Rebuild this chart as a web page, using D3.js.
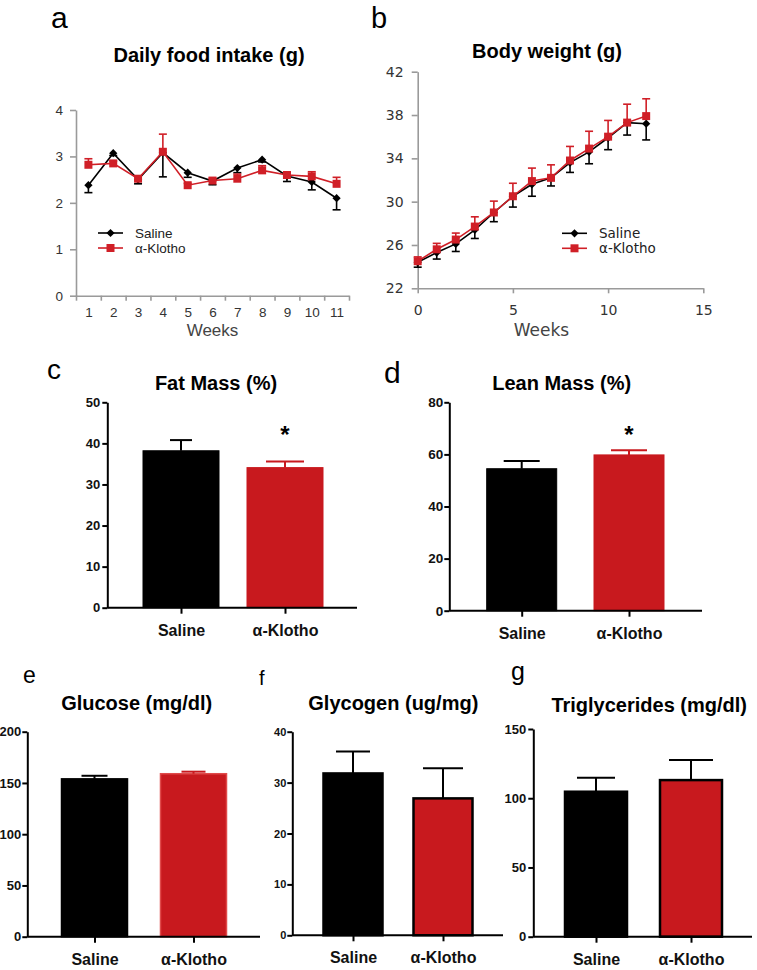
<!DOCTYPE html>
<html><head><meta charset="utf-8">
<script src="https://cdn.jsdelivr.net/npm/d3@7"></script>
<style>body{margin:0;background:#fff} svg{display:block}</style>
</head><body>
<svg id="chart" width="757" height="970"></svg>
<script>
// ---------- data ----------
const foodWeeks = [1,2,3,4,5,6,7,8,9,10,11];
const foodSaline    = [2.38,3.07,2.50,3.08,2.65,2.47,2.75,2.93,2.58,2.45,2.10];
const foodSalineErr = [0.16,0.05,0.09,0.52,0.10,0.08,0.10,0.05,0.12,0.17,0.25];
const foodKlotho    = [2.82,2.85,2.52,3.10,2.38,2.48,2.52,2.70,2.60,2.57,2.41];
const foodKlothoErr = [0.13,0.05,0.05,0.38,0.04,0.05,0.10,0.10,0.05,0.10,0.14];
const foodYTicks = [0,1,2,3,4];

const bwWeeks = [0,1,2,3,4,5,6,7,8,9,10,11,12];
const bwSaline    = [24.4,25.3,26.1,27.4,29.0,30.5,31.6,32.2,33.6,34.6,35.9,37.3,37.2];
const bwSalineErr = [0.45,0.6,0.7,0.8,0.85,1.0,1.1,0.75,0.9,1.1,1.1,1.15,1.5];
const bwKlotho    = [24.5,25.6,26.5,27.7,29.0,30.5,31.9,32.2,33.8,34.9,36.0,37.3,37.9];
const bwKlothoErr = [0.4,0.55,0.6,0.9,1.05,1.2,1.2,1.2,1.3,1.6,1.5,1.7,1.6];
const bwYTicks = [22,26,30,34,38,42];
const bwXTicks = [0,5,10,15];

const groups = ["Saline","α-Klotho"];
const seriesNames = ["Saline","α-Klotho"];
const fatMass = [38.2,34.1],   fatMassErr = [2.6,1.5];
const leanMass = [54.5,59.8],  leanMassErr = [3.0,1.8];
const glucose = [154,159],     glucoseErr = [3,2];
const glycogen = [31.8,26.9],  glycogenErr = [4.3,5.9];
const triglycerides = [104.7,113.1], triglyceridesErr = [10.1,14.5];
const fatTicks = [0,10,20,30,40,50];
const leanTicks = [0,20,40,60,80];
const glucoseTicks = [0,50,100,150,200];
const glycogenTicks = [0,10,20,30,40];
const tgTicks = [0,50,100,150];

// ---------- drawing ----------
const svg = d3.select("#chart");
const FONT = "'Liberation Sans', Arial, Helvetica, sans-serif";
const RED_LINE = "#d01f27", RED_BAR = "#c8191e";
const AX_GRAY = "#9a9a9a";

function label(x, y, s, size, opts={}) {
  return svg.append("text").attr("x", x).attr("y", y).text(s)
    .attr("font-family", opts.family || FONT).attr("font-size", size)
    .attr("font-weight", opts.weight || "normal")
    .attr("fill", opts.fill || "#000")
    .attr("text-anchor", opts.anchor || "start");
}

// panel letters
label(51, 28, "a", 30);
label(371, 28, "b", 29);
label(47, 379, "c", 28);
label(384, 383, "d", 30);
label(23, 683, "e", 23);
label(259, 685, "f", 20);
label(511, 680, "g", 25);

function diamond(g, x, y, color) {
  g.append("path").attr("d", d3.symbol(d3.symbolSquare, 34)())
    .attr("transform", `translate(${x},${y}) rotate(45)`).attr("fill", color);
}
function square(g, x, y, color) {
  g.append("path").attr("d", d3.symbol(d3.symbolSquare, 64)())
    .attr("transform", `translate(${x},${y})`).attr("fill", color);
}

function linePanel(cfg) {
  const g = svg.append("g");
  const x = cfg.x, y = cfg.y;
  const ya = g.append("g").attr("transform", `translate(${x.range()[0]},0)`)
    .call(d3.axisLeft(y).tickValues(cfg.yTicks).tickSize(6).tickSizeOuter(0)
      .tickPadding(cfg.yPad).tickFormat(d3.format("d")));
  const xa = g.append("g").attr("transform", `translate(0,${y.range()[0]})`)
    .call(d3.axisBottom(x).tickValues(cfg.xTickMarks).tickSize(5).tickSizeOuter(0).tickFormat(""));
  const xl = g.append("g").attr("transform", `translate(0,${y.range()[0]})`)
    .call(d3.axisBottom(x).tickValues(cfg.xLabels).tickSize(0).tickFormat(d3.format("d")));
  xl.select(".domain").remove();
  [ya, xa].forEach(a => {
    a.select(".domain").attr("stroke", AX_GRAY).attr("stroke-width", 1.6);
    a.selectAll(".tick line").attr("stroke", AX_GRAY).attr("stroke-width", 1.6);
  });
  ya.selectAll("text").attr("font-family", cfg.tickFamily).attr("font-size", cfg.tickSize).attr("fill", "#333");
  xl.selectAll("text").attr("font-family", cfg.tickFamily).attr("font-size", cfg.tickSize).attr("fill", "#333")
    .attr("dy", null).attr("y", cfg.xLabOff);
  label((x.range()[0] + x.range()[1]) / 2 + cfg.weeksDx, cfg.weeksY, "Weeks", 17, {anchor: "middle", fill: "#444", family: cfg.tickFamily});
  label(cfg.titleX, cfg.titleY, cfg.title, 20, {anchor: "middle", weight: "bold"});

  const line = d3.line().x(d => x(d[0])).y(d => y(d[1]));
  cfg.series.forEach(s => {
    const pts = s.x.map((v, i) => [v, s.v[i], s.e[i]]);
    pts.forEach(p => {
      const end = p[1] + s.dir * p[2];
      g.append("line").attr("x1", x(p[0])).attr("x2", x(p[0])).attr("y1", y(p[1])).attr("y2", y(end))
        .attr("stroke", s.color).attr("stroke-width", 1.6);
      g.append("line").attr("x1", x(p[0]) - 4).attr("x2", x(p[0]) + 4).attr("y1", y(end)).attr("y2", y(end))
        .attr("stroke", s.color).attr("stroke-width", 1.6);
    });
    g.append("path").datum(pts).attr("d", line).attr("fill", "none")
      .attr("stroke", s.color).attr("stroke-width", 1.6);
    pts.forEach(p => s.marker(g, x(p[0]), y(p[1]), s.color));
  });
  cfg.series.forEach((s, i) => {
    const ly = cfg.legY + i * 15;
    g.append("line").attr("x1", cfg.legX).attr("x2", cfg.legX + 25).attr("y1", ly).attr("y2", ly)
      .attr("stroke", s.color).attr("stroke-width", 1.6);
    s.marker(g, cfg.legX + 12.5, ly, s.color);
    label(cfg.legX + 37, ly + 5, s.name, 13.5, {fill: "#222", family: cfg.tickFamily});
  });
}

// Panel a
linePanel({
  x: d3.scaleLinear().domain([0.5, 11.5]).range([76, 349]),
  y: d3.scaleLinear().domain([0, 4]).range([295.7, 110]),
  yTicks: foodYTicks, yPad: 7,
  xTickMarks: d3.range(0.5, 12, 1), xLabels: foodWeeks, xLabOff: 21,
  tickFamily: FONT, tickSize: 13.5,
  weeksDx: 0, weeksY: 336,
  title: "Daily food intake (g)", titleX: 209, titleY: 61.5,
  legX: 98, legY: 233,
  series: [
    {name: seriesNames[0], x: foodWeeks, v: foodSaline, e: foodSalineErr, dir: -1, color: "#000", marker: diamond},
    {name: seriesNames[1], x: foodWeeks, v: foodKlotho, e: foodKlothoErr, dir: 1, color: RED_LINE, marker: square}
  ]
});

// Panel b
linePanel({
  x: d3.scaleLinear().domain([0, 15]).range([417.7, 703.3]),
  y: d3.scaleLinear().domain([22, 42]).range([288.3, 71.7]),
  yTicks: bwYTicks, yPad: 8,
  xTickMarks: bwXTicks, xLabels: bwXTicks, xLabOff: 27,
  tickFamily: "'DejaVu Sans', sans-serif", tickSize: 14,
  weeksDx: -19, weeksY: 336,
  title: "Body weight (g)", titleX: 547, titleY: 58.3,
  legX: 562, legY: 233.3,
  series: [
    {name: seriesNames[0], x: bwWeeks, v: bwSaline, e: bwSalineErr, dir: -1, color: "#000", marker: diamond},
    {name: seriesNames[1], x: bwWeeks, v: bwKlotho, e: bwKlothoErr, dir: 1, color: RED_LINE, marker: square}
  ]
});

function barPanel(cfg) {
  const g = svg.append("g");
  const y = d3.scaleLinear().domain([0, cfg.yMax]).range(cfg.yRange);
  const x = d3.scalePoint().domain(groups).range(cfg.centers);
  const y0 = cfg.yRange[0];
  groups.forEach((k, i) => {
    const st = cfg.barStroke[i];
    g.append("rect").attr("x", x(k) - cfg.barW / 2).attr("width", cfg.barW)
      .attr("y", y(cfg.values[i])).attr("height", y0 - y(cfg.values[i]))
      .attr("fill", i === 0 ? "#000" : RED_BAR)
      .attr("stroke", st[0]).attr("stroke-width", st[1]);
    const top = cfg.values[i] + cfg.errs[i];
    const ec = cfg.errColor[i];
    g.append("line").attr("x1", x(k)).attr("x2", x(k)).attr("y1", y(cfg.values[i])).attr("y2", y(top))
      .attr("stroke", ec).attr("stroke-width", 2);
    g.append("line").attr("x1", x(k) - cfg.capW[i] / 2).attr("x2", x(k) + cfg.capW[i] / 2)
      .attr("y1", y(top)).attr("y2", y(top)).attr("stroke", ec).attr("stroke-width", 2);
  });
  const ya = g.append("g").attr("transform", `translate(${cfg.axisX[0]},0)`)
    .call(d3.axisLeft(y).tickValues(cfg.yTicks).tickSize(5).tickSizeOuter(0).tickPadding(cfg.yPad));
  const xa = g.append("g").attr("transform", `translate(0,${y0})`)
    .call(d3.axisBottom(x).tickSize(6).tickSizeOuter(0).tickPadding(0));
  xa.select(".domain").remove();
  g.append("line").attr("x1", cfg.axisX[0]).attr("x2", cfg.axisX[1]).attr("y1", y0).attr("y2", y0)
    .attr("stroke", "#000").attr("stroke-width", 2);
  [ya, xa].forEach(a => {
    a.select(".domain").attr("stroke", "#000").attr("stroke-width", 2);
    a.selectAll(".tick line").attr("stroke", "#000").attr("stroke-width", 2);
  });
  ya.selectAll("text").attr("font-family", FONT).attr("font-weight", "bold")
    .attr("font-size", cfg.yFont).attr("fill", "#111");
  xa.selectAll("text").attr("font-family", FONT).attr("font-weight", "bold")
    .attr("font-size", 16).attr("fill", "#111").attr("dy", null).attr("y", 28);
  label(cfg.titleX, cfg.titleY, cfg.title, 20, {anchor: "middle", weight: "bold"});
  if (cfg.star) label(x(groups[1]), cfg.starY, "*", 24, {anchor: "middle", weight: "bold"});
}

barPanel({ title: "Fat Mass (%)", titleX: 216, titleY: 390,
  yMax: 50, yTicks: fatTicks, yRange: [607.7, 402.3], axisX: [107.3, 357],
  centers: [181, 285], barW: 76, values: fatMass, errs: fatMassErr,
  barStroke: [["#000", 1], [RED_BAR, 1]], errColor: ["#000", RED_BAR], capW: [22, 38],
  yFont: 13, yPad: 2, star: true, starY: 443 });

barPanel({ title: "Lean Mass (%)", titleX: 561.7, titleY: 390,
  yMax: 80, yTicks: leanTicks, yRange: [610.7, 402.3], axisX: [449.3, 702],
  centers: [521.7, 629], barW: 70, values: leanMass, errs: leanMassErr,
  barStroke: [["#000", 1], [RED_BAR, 1]], errColor: ["#000", RED_BAR], capW: [36, 36],
  yFont: 13.5, yPad: 1, star: true, starY: 443 });

barPanel({ title: "Glucose (mg/dl)", titleX: 136.7, titleY: 710,
  yMax: 200, yTicks: glucoseTicks, yRange: [936.7, 731.7], axisX: [27.3, 260],
  centers: [94.5, 193.5], barW: 66, values: glucose, errs: glucoseErr,
  barStroke: [["#000", 1.5], ["#e04a4a", 1.5]], errColor: ["#000", RED_BAR], capW: [26, 24],
  yFont: 13, yPad: 1 });

barPanel({ title: "Glycogen (ug/mg)", titleX: 393.3, titleY: 710,
  yMax: 40, yTicks: glycogenTicks, yRange: [935.3, 731.7], axisX: [292.3, 503],
  centers: [353, 443], barW: 59, values: glycogen, errs: glycogenErr,
  barStroke: [["#000", 2.5], ["#000", 2.5]], errColor: ["#000", "#000"], capW: [34, 40],
  yFont: 11, yPad: 1 });

barPanel({ title: "Triglycerides (mg/dl)", titleX: 649.2, titleY: 711.5,
  yMax: 150, yTicks: tgTicks, yRange: [936.7, 729], axisX: [533.3, 752],
  centers: [596, 691], barW: 62, values: triglycerides, errs: triglyceridesErr,
  barStroke: [["#000", 2.5], ["#000", 2.5]], errColor: ["#000", "#000"], capW: [38, 44],
  yFont: 13, yPad: 2 });
</script>
</body></html>
